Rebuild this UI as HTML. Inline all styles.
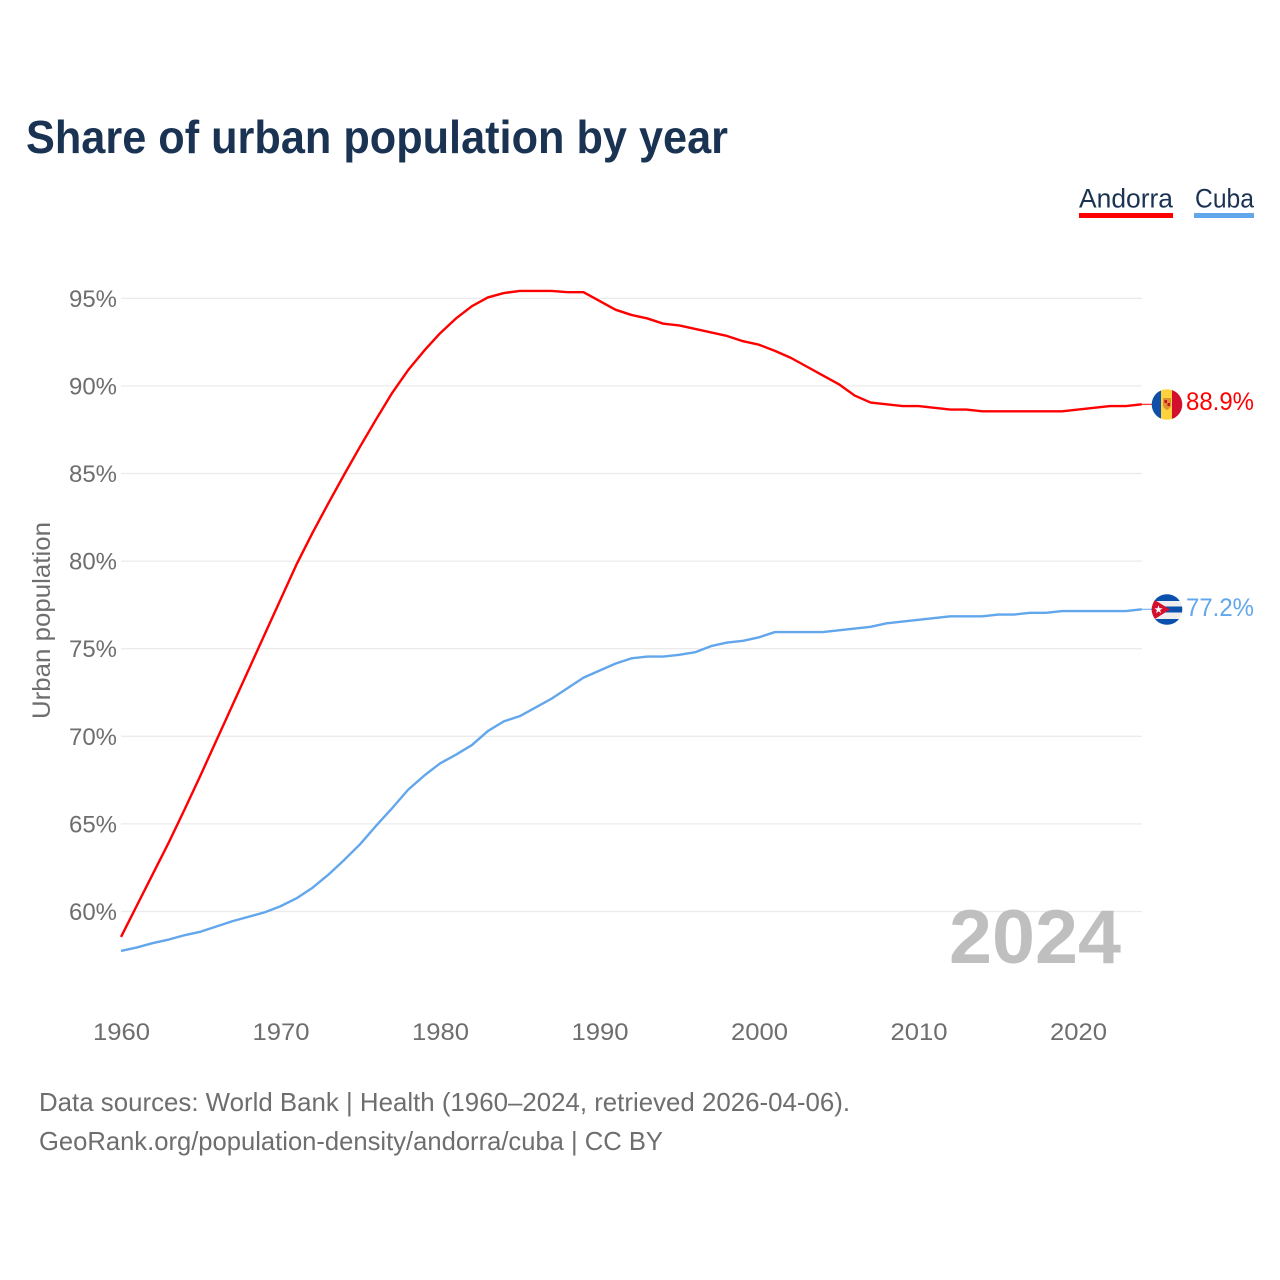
<!DOCTYPE html>
<html lang="en">
<head>
<meta charset="utf-8">
<title>Share of urban population by year</title>
<style>
html,body{margin:0;padding:0;background:#fff;}
svg{display:block;}
text{font-family:"Liberation Sans",sans-serif;}
</style>
</head>
<body>
<svg id="chart" xmlns="http://www.w3.org/2000/svg" width="1280" height="1280" viewBox="0 0 1280 1280">
  <defs>
    <clipPath id="flag-clip-a"><circle cx="1167" cy="404.5" r="15.3"/></clipPath>
    <clipPath id="flag-clip-c"><circle cx="1167" cy="609.5" r="15.3"/></clipPath>
  </defs>
  <rect width="1280" height="1280" fill="#fff"/>
  <text x="26" y="153" font-size="46" font-weight="700" fill="#1a3353" textLength="702" lengthAdjust="spacingAndGlyphs">Share of urban population by year</text>

  <g>
    <g>
      <text x="1079" y="207.5" font-size="27" fill="#1a3353" textLength="94" lengthAdjust="spacingAndGlyphs">Andorra</text>
      <rect x="1079" y="213" width="94" height="5" fill="#ff0000"/>
    </g>
    <g>
      <text x="1195" y="207.5" font-size="27" fill="#1a3353" textLength="59" lengthAdjust="spacingAndGlyphs">Cuba</text>
      <rect x="1194" y="213" width="60" height="5" fill="#62a6ec"/>
    </g>
  </g>

  <g id="grid"></g>
  <g id="yticks"></g>
  <g id="xticks"></g>
  <text transform="translate(50,719) rotate(-90)" font-size="25" fill="#6e6e6e" textLength="197" lengthAdjust="spacingAndGlyphs">Urban population</text>

  <text x="949" y="963" font-size="76" font-weight="700" fill="#bfbfbf" textLength="172" lengthAdjust="spacingAndGlyphs">2024</text>

  <g id="series"></g>

  <g clip-path="url(#flag-clip-a)">
    <rect x="1151" y="388" width="10" height="33" fill="#0f4fa8"/>
    <rect x="1161" y="388" width="11" height="33" fill="#fdd23c"/>
    <rect x="1172" y="388" width="11" height="33" fill="#d2102e"/>
    <path d="M1163 398h8v7q0 3-4 5q-4-2-4-5z" fill="#e0912f"/>
    <rect x="1164.5" y="400" width="2.5" height="3" fill="#c8102e"/>
    <rect x="1167.5" y="403" width="2.5" height="3" fill="#c8102e"/>
  </g>
  <g clip-path="url(#flag-clip-c)">
    <rect x="1151" y="594" width="32" height="32" fill="#eeeeee"/>
    <rect x="1151" y="594" width="32" height="7" fill="#0a50ad"/>
    <rect x="1151" y="606.5" width="32" height="6" fill="#0a50ad"/>
    <rect x="1151" y="619" width="32" height="7" fill="#0a50ad"/>
    <polygon points="1146,594.5 1170,609.5 1146,624.5" fill="#d2102e"/>
    <polygon points="1158.5,605.3 1159.5,608.2 1162.6,608.2 1160.1,610.1 1161,613.2 1158.5,611.3 1156,613.2 1156.9,610.1 1154.4,608.2 1157.5,608.2" fill="#fff"/>
  </g>

  <text id="end-a" x="1186" y="410" font-size="25" fill="#ff0000" textLength="68" lengthAdjust="spacingAndGlyphs"></text>
  <text id="end-c" x="1186" y="616" font-size="25" fill="#62a6ec" textLength="68" lengthAdjust="spacingAndGlyphs"></text>

  <text x="39" y="1111" font-size="26" fill="#6e6e6e" textLength="811" lengthAdjust="spacingAndGlyphs">Data sources: World Bank | Health (1960–2024, retrieved 2026-04-06).</text>
  <text x="39" y="1150" font-size="26" fill="#6e6e6e" textLength="624" lengthAdjust="spacingAndGlyphs">GeoRank.org/population-density/andorra/cuba | CC BY</text>
</svg>
<script>
const startYear = 1960;
const yTickValues = [60, 65, 70, 75, 80, 85, 90, 95];
const xTickYears = [1960, 1970, 1980, 1990, 2000, 2010, 2020];
const andorraValues = [
  58.55, 60.35, 62.15, 63.95, 65.85, 67.8, 69.8, 71.8, 73.8, 75.8,
  77.8, 79.8, 81.6, 83.3, 84.95, 86.55, 88.1, 89.6, 90.9, 92.0,
  93.0, 93.85, 94.55, 95.05, 95.3, 95.42, 95.42, 95.42, 95.35, 95.35,
  94.85, 94.35, 94.05, 93.85, 93.55, 93.45, 93.25, 93.05, 92.85, 92.55,
  92.35, 92.0, 91.6, 91.1, 90.6, 90.1, 89.45, 89.05, 88.95, 88.85,
  88.85, 88.75, 88.65, 88.65, 88.55, 88.55, 88.55, 88.55, 88.55, 88.55,
  88.65, 88.75, 88.85, 88.85, 88.95
];
const cubaValues = [
  57.75, 57.95, 58.2, 58.4, 58.65, 58.85, 59.15, 59.45, 59.7, 59.95,
  60.3, 60.75, 61.35, 62.1, 62.95, 63.85, 64.9, 65.9, 66.95, 67.75,
  68.45, 68.95, 69.5, 70.3, 70.85, 71.15, 71.65, 72.15, 72.75, 73.35,
  73.75, 74.15, 74.45, 74.55, 74.55, 74.65, 74.8, 75.15, 75.35, 75.45,
  75.65, 75.95, 75.95, 75.95, 75.95, 76.05, 76.15, 76.25, 76.45, 76.55,
  76.65, 76.75, 76.85, 76.85, 76.85, 76.95, 76.95, 77.05, 77.05, 77.15,
  77.15, 77.15, 77.15, 77.15, 77.25
];
const andorraLabel = "88.9%";
const cubaLabel = "77.2%";

const NS = "http://www.w3.org/2000/svg";
function xScale(year) { return 121 + (year - 1960) * 15.95; }
function yScale(v) { return 911.5 - (v - 60) * 17.52; }

const grid = document.getElementById("grid");
const yticks = document.getElementById("yticks");
const xticks = document.getElementById("xticks");
const series = document.getElementById("series");

yTickValues.forEach(function (v) {
  const line = document.createElementNS(NS, "line");
  
  
  line.setAttribute("x1", 121);
  line.setAttribute("x2", 1142);
  line.setAttribute("y1", yScale(v));
  line.setAttribute("y2", yScale(v));
  line.setAttribute("stroke", "#ebebeb");
  line.setAttribute("stroke-width", "1.3");
  grid.appendChild(line);

  const label = document.createElementNS(NS, "text");
  
  
  label.setAttribute("x", 69);
  label.setAttribute("y", yScale(v) + 8.5);
  label.setAttribute("font-size", "24");
  label.setAttribute("fill", "#6e6e6e");
  label.setAttribute("textLength", "48");
  label.setAttribute("lengthAdjust", "spacingAndGlyphs");
  label.textContent = v + "%";
  yticks.appendChild(label);
});

xTickYears.forEach(function (year) {
  const label = document.createElementNS(NS, "text");
  
  
  label.setAttribute("x", xScale(year) - 28.5 + 0.5);
  label.setAttribute("y", 1040);
  label.setAttribute("font-size", "24");
  label.setAttribute("fill", "#6e6e6e");
  label.setAttribute("textLength", "57");
  label.setAttribute("lengthAdjust", "spacingAndGlyphs");
  label.textContent = String(year);
  xticks.appendChild(label);
});

function pointsFor(values) {
  return values.map(function (v, i) {
    return xScale(startYear + i).toFixed(2) + "," + yScale(v).toFixed(2);
  }).join(" ");
}

const andorraLine = document.createElementNS(NS, "polyline");


andorraLine.setAttribute("points", pointsFor(andorraValues));
andorraLine.setAttribute("fill", "none");
andorraLine.setAttribute("stroke", "#ff0000");
andorraLine.setAttribute("stroke-width", "2.4");
andorraLine.setAttribute("stroke-linejoin", "round");
series.appendChild(andorraLine);

const cubaLine = document.createElementNS(NS, "polyline");


cubaLine.setAttribute("points", pointsFor(cubaValues));
cubaLine.setAttribute("fill", "none");
cubaLine.setAttribute("stroke", "#62a6ec");
cubaLine.setAttribute("stroke-width", "2.4");
cubaLine.setAttribute("stroke-linejoin", "round");
series.appendChild(cubaLine);

const connectorA = document.createElementNS(NS, "line");


connectorA.setAttribute("x1", xScale(2024));
connectorA.setAttribute("x2", 1153);
connectorA.setAttribute("y1", yScale(andorraValues[andorraValues.length - 1]));
connectorA.setAttribute("y2", yScale(andorraValues[andorraValues.length - 1]));
connectorA.setAttribute("stroke", "#ff0000");
connectorA.setAttribute("stroke-width", "1");
series.appendChild(connectorA);

const connectorC = document.createElementNS(NS, "line");


connectorC.setAttribute("x1", xScale(2024));
connectorC.setAttribute("x2", 1153);
connectorC.setAttribute("y1", yScale(cubaValues[cubaValues.length - 1]));
connectorC.setAttribute("y2", yScale(cubaValues[cubaValues.length - 1]));
connectorC.setAttribute("stroke", "#62a6ec");
connectorC.setAttribute("stroke-width", "1");
series.appendChild(connectorC);

document.getElementById("end-a").textContent = andorraLabel;
document.getElementById("end-c").textContent = cubaLabel;
</script>
</body>
</html>
